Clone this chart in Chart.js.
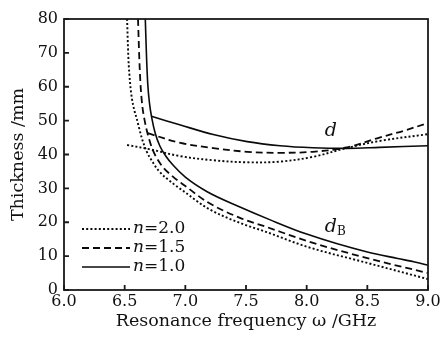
<!DOCTYPE html>
<html><head><meta charset="utf-8">
<script src="https://cdn.jsdelivr.net/npm/chart.js@4/dist/chart.umd.min.js"></script>
<style>html,body{margin:0;padding:0;background:#fff;}#wrap{width:444px;height:340px;}</style>
</head><body><div id="wrap"><canvas id="c" width="444" height="340"></canvas></div>
<script>
// Series names
const seriesNames = ['2.0', '1.5', '1.0'];
// dB curves (thickness vs resonance frequency)
const freqDB20 = [6.52, 6.53, 6.545, 6.56, 6.58, 6.60, 6.64, 6.68, 6.73, 6.78, 6.90, 7.00, 7.18, 7.45, 7.67, 8.00, 8.50, 9.00];
const dB20     = [80, 69, 61, 56.5, 53, 50.5, 45, 41, 37.8, 35.2, 31.4, 28.8, 24.2, 19.8, 17.1, 12.8, 8.0, 3.2];
const freqDB15 = [6.61, 6.62, 6.63, 6.645, 6.665, 6.69, 6.73, 6.80, 6.90, 7.00, 7.18, 7.45, 7.67, 8.00, 8.50, 9.00];
const dB15     = [80, 69, 61, 54.5, 50, 46, 41.5, 37, 33.4, 30.7, 26, 21.3, 18.6, 14.5, 9.4, 5.0];
const freqDB10 = [6.67, 6.68, 6.69, 6.705, 6.725, 6.75, 6.79, 6.84, 6.90, 7.00, 7.18, 7.45, 7.70, 8.00, 8.50, 8.75, 8.90, 9.00];
const dB10     = [80, 69, 61, 55, 50.5, 46.5, 42.5, 39.5, 36.8, 33.3, 29, 24.5, 20.7, 16.5, 11.2, 9.3, 8.2, 7.3];
// d curves
const freqD20 = [6.52, 6.70, 6.96, 7.23, 7.51, 7.78, 8.05, 8.33, 8.60, 9.00];
const d20     = [42.8, 41.6, 39.5, 38.3, 37.7, 37.9, 39.3, 41.9, 44.0, 46.0];
const freqD15 = [6.69, 6.96, 7.23, 7.51, 7.78, 8.05, 8.33, 8.60, 8.80, 9.00];
const d15     = [46.3, 43.4, 41.9, 40.8, 40.5, 40.8, 42.1, 45.0, 47.0, 49.3];
const freqD10 = [6.72, 6.96, 7.23, 7.51, 7.78, 8.05, 8.33, 8.60, 9.00];
const d10     = [51.3, 48.7, 45.9, 43.8, 42.6, 42.0, 41.8, 42.1, 42.6];
// Axis ticks
const xTicks = [6.0, 6.5, 7.0, 7.5, 8.0, 8.5, 9.0];
const yTicks = [0, 10, 20, 30, 40, 50, 60, 70, 80];

const SERIF = '"DejaVu Serif", serif';
const dashes = { '2.0': [2, 2.2], '1.5': [7, 4], '1.0': [] };
const widths = { '2.0': 1.9, '1.5': 1.8, '1.0': 1.6 };

function pts(xs, ys) { return xs.map((x, i) => ({ x: x, y: ys[i] })); }
function ds(label, xs, ys, legend) {
  const o = {
    label: 'n=' + label, data: pts(xs, ys), showLine: true, fill: false,
    borderColor: '#0a0a0a', backgroundColor: '#0a0a0a', borderWidth: widths[label],
    borderDash: dashes[label], pointRadius: 0,
    legendEntry: legend, seriesKey: label
  };
  if (legend) o.cubicInterpolationMode = 'monotone'; else o.tension = 0.35;
  return o;
}
const datasets = [
  ds('2.0', freqDB20, dB20, true), ds('1.5', freqDB15, dB15, true), ds('1.0', freqDB10, dB10, true),
  ds('2.0', freqD20, d20, false), ds('1.5', freqD15, d15, false), ds('1.0', freqD10, d10, false)
];

const framePlugin = {
  id: 'frame',
  afterDatasetsDraw(chart) {
    const { ctx, chartArea: a, scales: { x, y } } = chart;
    ctx.save();
    ctx.strokeStyle = '#1a1a1a'; ctx.lineWidth = 1.8; ctx.setLineDash([]);
    ctx.strokeRect(a.left, a.top, a.right - a.left, a.bottom - a.top);
    ctx.beginPath();
    xTicks.forEach(v => { const p = x.getPixelForValue(v); ctx.moveTo(p, a.bottom); ctx.lineTo(p, a.bottom - 5); });
    yTicks.forEach(v => { const p = y.getPixelForValue(v); ctx.moveTo(a.left, p); ctx.lineTo(a.left + 5, p); });
    ctx.stroke();
    // legend
    const rows = chart.data.datasets.filter(d => d.legendEntry);
    ctx.textBaseline = 'middle';
    rows.forEach((d, i) => {
      const yy = a.bottom - 61 + i * 19;
      ctx.beginPath(); ctx.strokeStyle = d.borderColor; ctx.lineWidth = d.borderWidth;
      ctx.setLineDash(d.borderDash); ctx.moveTo(a.left + 18, yy); ctx.lineTo(a.left + 66, yy); ctx.stroke();
      ctx.setLineDash([]);
      ctx.fillStyle = '#111';
      ctx.font = 'italic 17px ' + SERIF;
      const nx = a.left + 69;
      ctx.fillText('n', nx, yy);
      const w = ctx.measureText('n').width;
      ctx.font = '17px ' + SERIF;
      ctx.fillText('=' + d.seriesKey, nx + w, yy);
    });
    // curve labels
    ctx.font = 'italic 19px ' + SERIF; ctx.textAlign = 'center';
    ctx.fillText('d', x.getPixelForValue(8.2), y.getPixelForValue(47));
    const dx = x.getPixelForValue(8.2), dy = y.getPixelForValue(18.6);
    ctx.fillText('d', dx, dy);
    ctx.font = '12px ' + SERIF; ctx.textAlign = 'left';
    ctx.fillText('B', dx + 6, dy + 5);
    ctx.restore();
  }
};

new Chart(document.getElementById('c'), {
  type: 'scatter',
  data: { datasets },
  options: {
    responsive: false, animation: false, devicePixelRatio: 1,
    layout: { padding: { top: 19, right: 16, left: 0, bottom: 0 } },
    plugins: { legend: { display: false }, tooltip: { enabled: false } },
    scales: {
      x: {
        type: 'linear', min: 6, max: 9,
        grid: { display: false, drawTicks: false, tickLength: 0 }, border: { display: false },
        afterBuildTicks: s => { s.ticks = xTicks.map(v => ({ value: v })); },
        ticks: { callback: v => Number(v).toFixed(1), font: { family: SERIF, size: 16 }, color: '#111', padding: 2, maxRotation: 0 },
        title: { display: true, text: 'Resonance frequency ω /GHz', font: { family: SERIF, size: 17.5 }, color: '#111', padding: { top: 0, bottom: 8 } },
        afterFit: s => { s.height = 50; }
      },
      y: {
        min: 0, max: 80,
        grid: { display: false, drawTicks: false, tickLength: 0 }, border: { display: false },
        afterBuildTicks: s => { s.ticks = yTicks.map(v => ({ value: v })); },
        ticks: { font: { family: SERIF, size: 16 }, color: '#111', padding: 6 },
        title: { display: true, text: 'Thickness /mm', font: { family: SERIF, size: 17.5 }, color: '#111', padding: { top: 8, bottom: 0 } },
        afterFit: s => { s.width = 64; }
      }
    }
  },
  plugins: [framePlugin]
});
</script></body></html>
